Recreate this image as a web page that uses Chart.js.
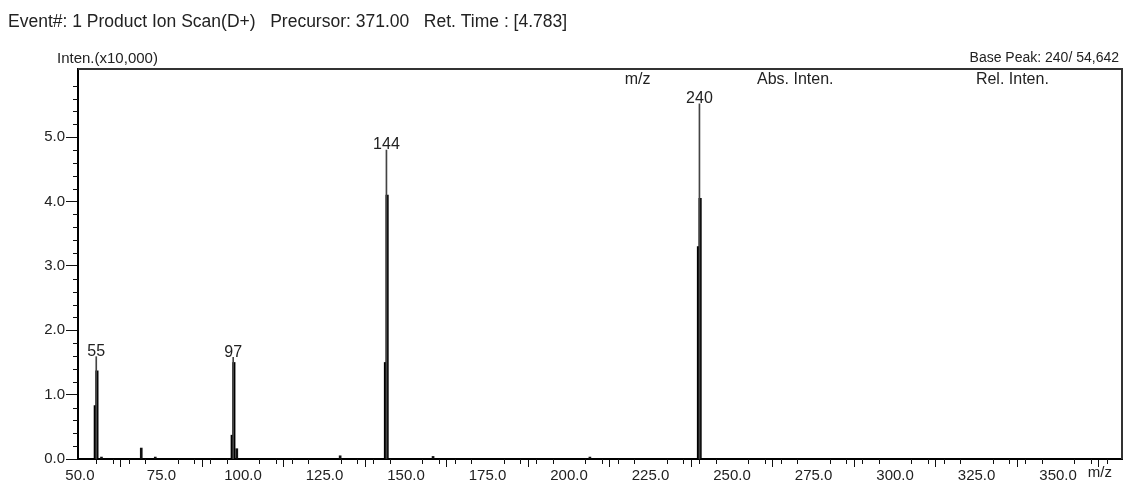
<!DOCTYPE html>
<html>
<head>
<meta charset="utf-8">
<script src="https://cdn.jsdelivr.net/npm/chart.js@4.4.1/dist/chart.umd.min.js"></script>
<style>
  html, body { margin: 0; background: #fff; }
  #wrap { width: 1129px; height: 486px; position: relative; }
</style>
</head>
<body>
<div id="wrap"><canvas id="spec"></canvas></div>
<script>
"use strict";

/* ---------- data ---------- */
const TITLE = "Event#: 1 Product Ion Scan(D+)   Precursor: 371.00   Ret. Time : [4.783]";
const Y_UNIT = "Inten.(x10,000)";
const BASE_PEAK = "Base Peak: 240/ 54,642";
const TABLE_HEAD = ["m/z", "Abs. Inten.", "Rel. Inten."];

const X_TICKS = [50, 75, 100, 125, 150, 175, 200, 225, 250, 275, 300, 325, 350];
const Y_TICKS = [0, 1, 2, 3, 4, 5];

// labelled centroid sticks (x10,000)
const PEAK_MZ = [55, 97, 144, 240];
const PEAK_INT = [1.59, 1.58, 4.8, 5.52];

// profile points around the peaks
const PROFILE_MZ = [54.7, 55.2, 96.7, 97.2, 143.7, 144.2, 239.7, 240.2];
const PROFILE_INT = [0.83, 1.37, 0.37, 1.5, 1.5, 4.1, 3.3, 4.05];

// small noise peaks
const NOISE_MZ = [56.6, 68.8, 73.1, 98.1, 129.8, 158.3, 206.4];
const NOISE_INT = [0.03, 0.17, 0.03, 0.16, 0.05, 0.04, 0.03];

const X_MIN = 49.4, X_MAX = 369.6, Y_MAX = 6.06;
const FONT = "'Liberation Sans', Arial, sans-serif";

const pts = (xs, ys) => xs.map((x, i) => ({ x, y: ys[i] }));

/* ---------- plugin: frame, minor ticks, texts ---------- */
const decor = {
  id: "decor",
  afterDraw(chart) {
    const { ctx, chartArea: a, scales: { x, y } } = chart;
    ctx.save();

    // frame top / right
    ctx.strokeStyle = "#333";
    ctx.lineWidth = 2;
    ctx.beginPath();
    ctx.moveTo(a.left, a.top);
    ctx.lineTo(a.right, a.top);
    ctx.lineTo(a.right, a.bottom);
    ctx.stroke();

    // minor ticks
    ctx.strokeStyle = "#111";
    ctx.lineWidth = 1;
    ctx.beginPath();
    for (let v = 55; v < X_MAX; v += 5) {
      if (v % 25 === 0) continue;
      const px = Math.round(x.getPixelForValue(v)) + 0.5;
      ctx.moveTo(px, a.bottom);
      ctx.lineTo(px, a.bottom + 5);
    }
    for (let i = 1; i * 0.2 < Y_MAX; i++) {
      if (i % 5 === 0) continue;
      const py = Math.round(y.getPixelForValue(i * 0.2)) + 0.5;
      ctx.moveTo(a.left - 5, py);
      ctx.lineTo(a.left, py);
    }
    ctx.stroke();

    ctx.fillStyle = "#222";
    ctx.textBaseline = "middle";

    ctx.textAlign = "left";
    ctx.font = "17.5px " + FONT;
    ctx.fillText(TITLE, 8, 22);
    ctx.font = "15px " + FONT;
    ctx.fillText(Y_UNIT, 57, 59);
    ctx.font = "14px " + FONT;
    ctx.textAlign = "right";
    ctx.fillText(BASE_PEAK, 1119, 58);

    // table header inside plot
    const fr = [0.536, 0.687, 0.895];
    ctx.font = "16px " + FONT;
    ctx.textAlign = "center";
    TABLE_HEAD.forEach((t, i) => {
      ctx.fillText(t, a.left + fr[i] * (a.right - a.left), a.top + 11);
    });

    // peak labels
    ctx.textBaseline = "bottom";
    PEAK_MZ.forEach((m, i) => {
      ctx.fillText(String(m), x.getPixelForValue(m), y.getPixelForValue(PEAK_INT[i]) + 3);
    });

    // axis unit at right end of x axis
    ctx.font = "15px " + FONT;
    ctx.textBaseline = "middle";
    ctx.fillText("m/z", x.getPixelForValue(362.8), a.bottom + 14);
    ctx.restore();
  },
};

/* ---------- chart ---------- */
new Chart(document.getElementById("spec"), {
  type: "bar",
  data: {
    datasets: [
      {
        label: "centroid",
        data: pts(PEAK_MZ, PEAK_INT),
        backgroundColor: "#444",
        barThickness: 1,
      },
      {
        label: "profile",
        data: pts(PROFILE_MZ, PROFILE_INT),
        backgroundColor: "#000",
        barThickness: 2.5,
      },
      {
        label: "noise",
        data: pts(NOISE_MZ, NOISE_INT),
        backgroundColor: "#111",
        barThickness: 2,
      },
    ],
  },
  plugins: [decor],
  options: {
    responsive: true,
    maintainAspectRatio: false,
    animation: false,
    grouped: false,
    layout: { padding: { left: 0, top: 69, right: 7, bottom: 0 } },
    plugins: { legend: { display: false }, tooltip: { enabled: false } },
    scales: {
      x: {
        type: "linear",
        min: X_MIN,
        max: X_MAX,
        offset: false,
        afterBuildTicks: (s) => { s.ticks = X_TICKS.map((v) => ({ value: v })); },
        afterFit: (s) => { s.height = 27; },
        ticks: {
          color: "#222",
          font: { family: FONT, size: 15 },
          padding: 0,
          maxRotation: 0,
          autoSkip: false,
          callback: (v) => Number(v).toFixed(1),
        },
        grid: { drawOnChartArea: false, tickLength: 8, tickColor: "#111", tickWidth: 1 },
        border: { color: "#000", width: 2 },
      },
      y: {
        min: 0,
        max: Y_MAX,
        afterBuildTicks: (s) => { s.ticks = Y_TICKS.map((v) => ({ value: v })); },
        afterFit: (s) => { s.width = 78; },
        ticks: {
          color: "#222",
          font: { family: FONT, size: 15 },
          padding: 1,
          callback: (v) => Number(v).toFixed(1),
        },
        grid: { drawOnChartArea: false, tickLength: 12, tickColor: "#111", tickWidth: 1 },
        border: { color: "#000", width: 2 },
      },
    },
  },
});
</script>
</body>
</html>
